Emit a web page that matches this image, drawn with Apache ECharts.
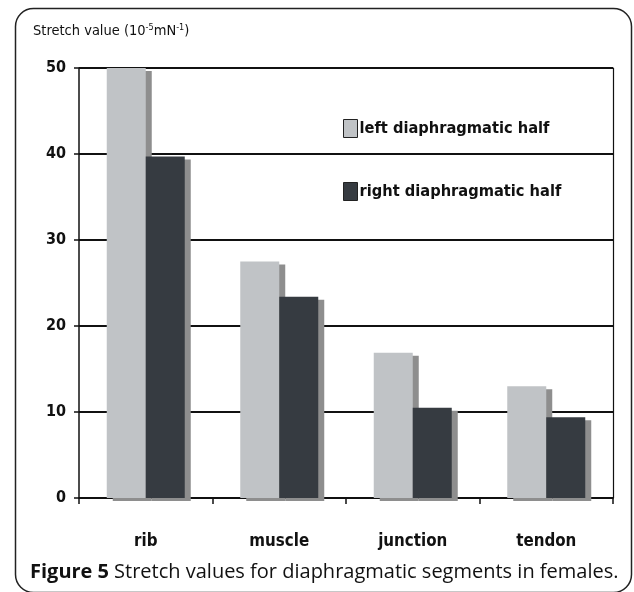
<!DOCTYPE html>
<html><head><meta charset="utf-8">
<script src="https://cdn.jsdelivr.net/npm/echarts@6/dist/echarts.min.js"></script>
<style>html,body{margin:0;padding:0;background:#fff}#c{width:634px;height:592px}</style>
</head><body><div id="c"></div>
<script>
var categories = ['rib', 'muscle', 'junction', 'tendon'];
var leftHalf = [50, 27.5, 16.9, 13.0];
var rightHalf = [39.7, 23.4, 10.5, 9.4];
var seriesNames = ['left diaphragmatic half', 'right diaphragmatic half'];
var yTicks = [0, 10, 20, 30, 40, 50];

// pick an installed narrow-ish family
var cv = document.createElement('canvas').getContext('2d');
function w(font, s) { cv.font = font; return cv.measureText(s).width; }
function available(fam) {
  var s = 'mmmwwwlliiABC123';
  return w('100px "' + fam + '", monospace', s) !== w('100px monospace', s) ||
         w('100px "' + fam + '", serif', s) !== w('100px serif', s);
}
var fams = ['Liberation Sans Narrow', 'Arial Narrow', 'DejaVu Sans Condensed', 'Liberation Sans'];
var FAM = 'Liberation Sans';
for (var i = 0; i < fams.length; i++) { if (available(fams[i])) { FAM = fams[i]; break; } }
var NARROW = '"' + FAM + '", "Liberation Sans", sans-serif';
function fit(str, target, weight, maxSize) {
  var m = w(weight + ' 100px ' + NARROW, str);
  return Math.min(maxSize, Math.round(target / m * 1000) / 10);
}
var yLabelSize = fit('50', 20, 'bold', 21);
var catSize = fit('muscle', 60, 'bold', 22);
var legSize = fit('left diaphragmatic half', 190, 'bold', 21);
var titleSize = fit('Stretch value (10mN)', 140, 'normal', 16);

var chart = echarts.init(document.getElementById('c'));
var barStyle = function (color) {
  return { color: color, shadowColor: '#8e8e8e', shadowOffsetX: 6, shadowOffsetY: 3, shadowBlur: 0 };
};
chart.setOption({
  animation: false,
  backgroundColor: '#fff',
  title: [{
    left: 28, top: 18,
    text: '{a|Stretch value (10}{s|-5}{a|mN}{s|-1}{a|)}',
    textStyle: {
      fontWeight: 'normal',
      rich: {
        a: { fontFamily: NARROW, fontSize: titleSize, fontWeight: 'normal', color: '#111' },
        s: { fontFamily: NARROW, fontSize: Math.round(titleSize * 0.6), fontWeight: 'normal', color: '#111', verticalAlign: 'top', padding: [0, 0, 7, 0] }
      }
    }
  }, {
    left: 25, top: 557,
    text: '{b|Figure 5} {n|Stretch values for diaphragmatic segments in females.}',
    textStyle: {
      fontWeight: 'normal',
      rich: {
        b: { fontFamily: '"Open Sans", sans-serif', fontSize: 20, fontWeight: 'bold', color: '#111' },
        n: { fontFamily: '"Open Sans", sans-serif', fontSize: 20, fontWeight: 'normal', color: '#111' }
      }
    }
  }],
  graphic: [{
    type: 'rect', left: 13, top: 6, z: -1,
    shape: { width: 616, height: 584, r: 18 },
    style: { fill: 'none', stroke: '#222', lineWidth: 1.5 }
  }],
  legend: {
    orient: 'vertical', left: 338, top: 114, itemGap: 44,
    icon: 'rect', itemWidth: 14, itemHeight: 18,
    itemStyle: { borderColor: '#222', borderWidth: 1 },
    textStyle: { fontFamily: NARROW, fontSize: legSize, fontWeight: 'bold', color: '#111', padding: [0, 0, 0, -3] },
    data: seriesNames
  },
  grid: { left: 79, right: 21, top: 68, bottom: 94 },
  xAxis: {
    type: 'category', data: categories,
    axisLine: { lineStyle: { color: '#111', width: 1.5 } },
    axisTick: { show: true, length: 6, lineStyle: { color: '#111', width: 1.5 } },
    axisLabel: { margin: 35, fontFamily: NARROW, fontSize: catSize, fontWeight: 'bold', color: '#111' }
  },
  yAxis: [{
    type: 'value', min: yTicks[0], max: yTicks[yTicks.length - 1], interval: 10,
    axisLine: { show: true, lineStyle: { color: '#111', width: 1.5 } },
    axisTick: { show: true, length: 5, lineStyle: { color: '#111', width: 1.5 } },
    axisLabel: { margin: 13, fontFamily: NARROW, fontSize: yLabelSize, fontWeight: 'bold', color: '#111' },
    splitLine: { lineStyle: { color: '#111', width: 1.8 } }
  }, {
    type: 'value', position: 'right', min: yTicks[0], max: yTicks[yTicks.length - 1], interval: 10,
    axisLine: { show: true, lineStyle: { color: '#111', width: 1.2 } },
    axisTick: { show: false }, axisLabel: { show: false }, splitLine: { show: false }
  }],
  series: [{
    name: seriesNames[0], type: 'bar', data: leftHalf,
    barWidth: 39, barGap: '0%', itemStyle: barStyle('#c0c3c6')
  }, {
    name: seriesNames[1], type: 'bar', data: rightHalf,
    barWidth: 39, barGap: '0%', itemStyle: barStyle('#363b41')
  }]
});
</script></body></html>
